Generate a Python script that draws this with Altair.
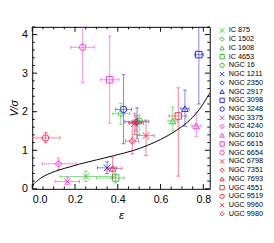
import altair as alt
import pandas as pd

names = ["IC 875", "IC 1502", "IC 1608", "IC 4653", "NGC 16", "NGC 1211", "NGC 2350",
         "NGC 2917", "NGC 3098", "NGC 3248", "NGC 3375", "NGC 4240", "NGC 6010", "NGC 6615",
         "NGC 6654", "NGC 6798", "NGC 7351", "NGC 7693", "UGC 4551", "UGC 9519", "UGC 9960",
         "UGC 9980"]
eps = [0.251, 0.414, 0.657, 0.390, 0.500, 0.350, 0.490, 0.714, 0.779, 0.427, 0.164,
       0.123, 0.767, 0.362, 0.236, 0.479, 0.468, 0.376, 0.683, 0.062, 0.532, 0.485]
eps_lo = [0.130, 0.377, 0.635, 0.300, 0.470, 0.305, 0.433, 0.695, 0.760, 0.390, 0.107,
          0.047, 0.747, 0.320, 0.180, 0.455, 0.436, 0.350, 0.640, 0.000, 0.490, 0.450]
eps_hi = [0.390, 0.455, 0.680, 0.430, 0.530, 0.395, 0.545, 0.733, 0.800, 0.464, 0.221,
          0.206, 0.790, 0.405, 0.290, 0.520, 0.498, 0.420, 0.720, 0.130, 0.570, 0.510]
vs = [0.32, 1.95, 1.76, 0.28, 1.76, 0.545, 1.74, 2.08, 3.48, 2.06, 0.19,
      0.65, 1.63, 2.83, 3.67, 1.70, 1.24, 0.53, 1.89, 1.32, 1.38, 1.72]
vs_lo = [0.19, 1.67, 1.50, 0.15, 1.41, 0.40, 1.30, 1.62, 2.20, 1.17, 0.11,
         0.50, 1.36, 1.70, 2.75, 1.41, 0.90, 0.28, 0.33, 1.20, 0.86, 1.50]
vs_hi = [0.46, 2.22, 2.12, 0.40, 1.91, 0.70, 2.10, 2.56, 4.50, 2.96, 0.29,
         0.80, 1.99, 3.96, 4.60, 1.96, 1.71, 0.82, 2.62, 1.46, 1.78, 1.90]

# model curve
curve_eps = [0.0, 0.005, 0.02, 0.04, 0.07, 0.11, 0.15, 0.22, 0.3, 0.38, 0.47, 0.54, 0.6, 0.68, 0.74, 0.78, 0.83]
curve_v = [0.0, 0.10, 0.19, 0.28, 0.37, 0.46, 0.53, 0.64, 0.75, 0.86, 0.99, 1.13, 1.28, 1.54, 1.80, 2.05, 2.48]

x_ticks = [0.0, 0.2, 0.4, 0.6, 0.8]
x_minor = [0.05, 0.1, 0.15, 0.25, 0.3, 0.35, 0.45, 0.5, 0.55, 0.65, 0.7, 0.75]
y_ticks = [0, 1, 2, 3, 4]
y_minor = [0.2, 0.4, 0.6, 0.8, 1.2, 1.4, 1.6, 1.8, 2.2, 2.4, 2.6, 2.8, 3.2, 3.4, 3.6, 3.8, 4.2]

group_colors = ["#3cc03c"] * 5 + ["#2b2bdd"] * 5 + ["#f03ccf"] * 5 + ["#ee2d4d"] * 7
xshape = "M-1,-1L1,1M-1,1L1,-1"
shape_cycle = [xshape, "diamond", "triangle-up", "square", "circle"]
shapes = [shape_cycle[i % 5] for i in range(len(names))]

W, H = 183, 167
XD = [0, 0.83]
YD = [0, 4.2]

df = pd.DataFrame({"name": names, "eps": eps, "elo": eps_lo, "ehi": eps_hi,
                   "v": vs, "vlo": vs_lo, "vhi": vs_hi})
cdf = pd.DataFrame({"eps": curve_eps, "v": curve_v})

xs = alt.Scale(domain=XD, nice=False, zero=False)
ys = alt.Scale(domain=YD, nice=False, zero=False)

leg = alt.Legend(title=None, orient="right", offset=9, padding=0, symbolSize=20,
                 symbolStrokeWidth=1, labelFontSize=7.5, labelOffset=3, rowPadding=0,
                 labelFont="Liberation Sans")
col = alt.Color("name:N", scale=alt.Scale(domain=names, range=group_colors), legend=leg)
shp = alt.Shape("name:N", scale=alt.Scale(domain=names, range=shapes), legend=leg)

xaxis = alt.Axis(values=x_ticks, format=".1f", ticks=False, domain=False, grid=False,
                 labelFontSize=11, labelPadding=5, title="ε", titleFontStyle="italic",
                 titleFontWeight="normal", titleFontSize=12, titlePadding=6)
yaxis = alt.Axis(values=y_ticks, format="d", ticks=False, domain=False, grid=False,
                 labelFontSize=11, labelPadding=5, title="V/σ", titleFontStyle="italic",
                 titleFontWeight="normal", titleFontSize=11, titlePadding=2)

base = alt.Chart(df)

pts = base.mark_point(filled=False, size=45, strokeWidth=1, opacity=1).encode(
    x=alt.X("eps:Q", scale=xs, axis=xaxis), y=alt.Y("v:Q", scale=ys, axis=yaxis),
    color=col, shape=shp)

xbar = base.mark_rule(opacity=0.6, strokeWidth=1, clip=True).encode(
    x=alt.X("elo:Q", scale=xs), x2="ehi:Q", y=alt.Y("v:Q", scale=ys), color=col)
ybar = base.mark_rule(opacity=0.6, strokeWidth=1, clip=True).encode(
    x=alt.X("eps:Q", scale=xs), y=alt.Y("vlo:Q", scale=ys), y2="vhi:Q", color=col)

capv = "M0,-1L0,1"
caph = "M-1,0L1,0"
caps = []
for fx, fy, sh in [("elo", "v", capv), ("ehi", "v", capv), ("eps", "vlo", caph), ("eps", "vhi", caph)]:
    caps.append(base.mark_point(shape=sh, size=14, filled=False, strokeWidth=1, opacity=0.6,
                                clip=True).encode(
        x=alt.X(f"{fx}:Q", scale=xs), y=alt.Y(f"{fy}:Q", scale=ys), color=col))

curve = alt.Chart(cdf).mark_line(color="black", strokeWidth=1, interpolate="monotone", clip=True).encode(
    x=alt.X("eps:Q", scale=xs), y=alt.Y("v:Q", scale=ys))

# inward ticks on all four sides
def xt(vals, ln):
    d = pd.DataFrame({"t": vals})
    b = alt.Chart(d).mark_rule(color="black", strokeWidth=1)
    return [b.encode(x=alt.X("t:Q", scale=xs), y=alt.value(H), y2=alt.value(H - ln)),
            b.encode(x=alt.X("t:Q", scale=xs), y=alt.value(0), y2=alt.value(ln))]

def yt(vals, ln):
    d = pd.DataFrame({"t": vals})
    b = alt.Chart(d).mark_rule(color="black", strokeWidth=1)
    return [b.encode(y=alt.Y("t:Q", scale=ys), x=alt.value(0), x2=alt.value(ln)),
            b.encode(y=alt.Y("t:Q", scale=ys), x=alt.value(W), x2=alt.value(W - ln))]

ticks = xt(x_ticks, 5) + xt(x_minor, 2.5) + yt(y_ticks, 5) + yt(y_minor, 2.5)

chart = alt.layer(pts, xbar, ybar, *caps, curve, *ticks).properties(
    width=W, height=H, autosize=alt.AutoSizeParams(type="none"),
    padding={"left": 25, "top": 16, "right": 58, "bottom": 40}
).configure_view(stroke="black", strokeWidth=1).configure_axis(
    labelFont="Liberation Sans", titleFont="Liberation Sans", labelColor="black", titleColor="black"
).configure_legend(labelColor="black")

chart.save("out.html", embed_options={"renderer": "svg", "actions": False})
